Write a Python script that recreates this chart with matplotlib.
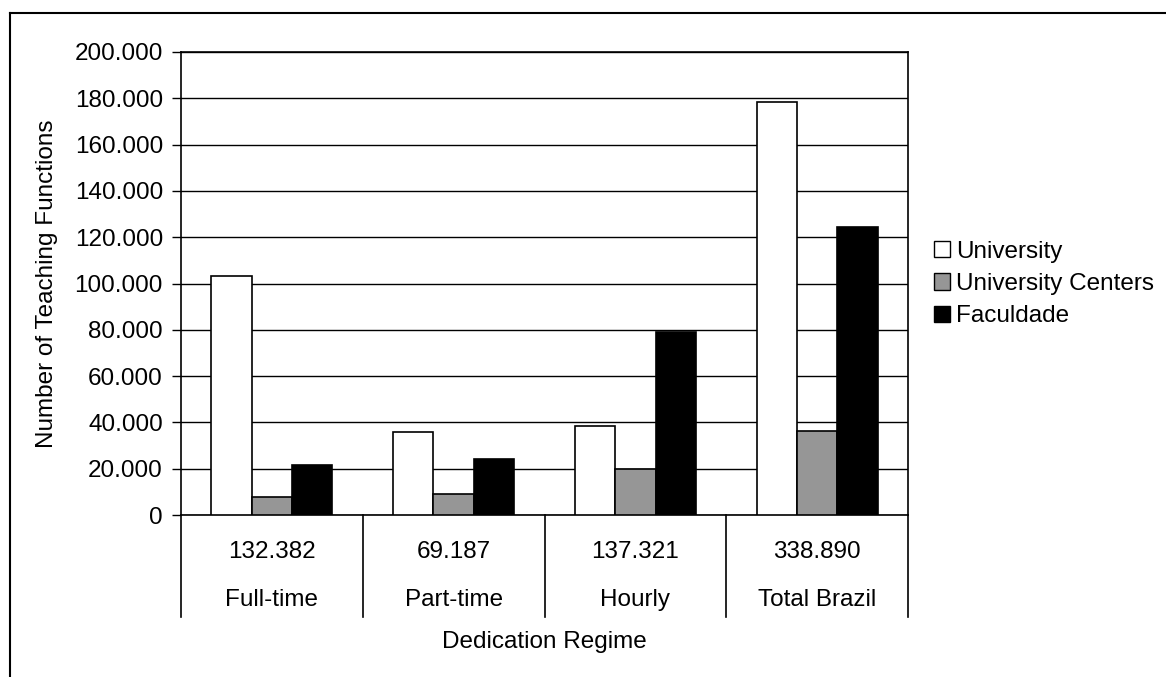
import matplotlib
matplotlib.use("Agg")
import matplotlib.pyplot as plt
import numpy as np
from matplotlib.lines import Line2D
from matplotlib.patches import Patch
from matplotlib.ticker import FuncFormatter, MultipleLocator

plt.rcParams['font.family'] = ['Liberation Sans', 'DejaVu Sans']

categories = ["Full-time", "Part-time", "Hourly", "Total Brazil"]
totals = [132382, 69187, 137321, 338890]
series_names = ["University", "University Centers", "Faculdade"]
university = [103300, 36000, 38600, 178200]
university_centers = [7700, 9000, 19700, 36100]
faculdade = [21400, 24200, 79000, 124600]
series_colors = ["#ffffff", "#969696", "#000000"]

FS = 17.5


def br_thousands(v, pos=None):
    return f"{v:,.0f}".replace(",", ".")


W, H = 1166, 677
fig = plt.figure(figsize=(W / 100, H / 100), dpi=100)
# plot area in pixels: x 181..908, y 52..515 (from top)
ax = fig.add_axes([181 / W, (H - 515) / H, 727 / W, 463 / H])

x = np.arange(len(categories))
bw = 1 / 4.5
for i, (vals, col, name) in enumerate(zip([university, university_centers, faculdade],
                                          series_colors, series_names)):
    ax.bar(x + (i - 1) * bw, vals, width=bw, color=col, edgecolor="black",
           linewidth=1.2, label=name, zorder=3)

ax.set_xlim(-0.5, len(categories) - 0.5)
ax.set_ylim(0, 200000)
ax.yaxis.set_major_locator(MultipleLocator(20000))
ax.yaxis.set_major_formatter(FuncFormatter(br_thousands))
ax.grid(axis="y", color="black", linewidth=1.0, zorder=0)
ax.set_axisbelow(True)
ax.tick_params(axis="y", direction="out", length=6.5, width=1.0, pad=6.5,
               labelsize=FS)
ax.set_xticks([])
for s in ax.spines.values():
    s.set_linewidth(1.2)

# category table below the axis
ext = -102 / 463
tr = ax.get_xaxis_transform()
for xb in np.arange(-0.5, len(categories), 1.0):
    ax.plot([xb, xb], [0, ext], color="black", linewidth=1.2,
            transform=tr, clip_on=False)
for xi, name, tot in zip(x, categories, totals):
    ax.text(xi, -37 / 463, br_thousands(tot), transform=tr, ha="center",
            va="center", fontsize=FS)
    ax.text(xi, -85 / 463, name, transform=tr, ha="center", va="center",
            fontsize=FS)
ax.text((len(categories) - 1) / 2, -127 / 463, "Dedication Regime", transform=tr,
        ha="center", va="center", fontsize=FS)

ax.text(-134 / 727, 0.5, "Number of Teaching Functions", transform=ax.transAxes,
        rotation=90, ha="center", va="center", fontsize=FS)

handles = [Patch(facecolor=c, edgecolor="black", linewidth=1.0) for c in series_colors]
fig.legend(handles, series_names, loc="center left",
           bbox_to_anchor=(934 / W, (H - 284) / H), frameon=False, fontsize=FS,
           handlelength=0.66, handleheight=0.66, handletextpad=0.25,
           labelspacing=0.43, borderpad=0, borderaxespad=0)

# outer chart border (only top and left fall inside the image)
fig.add_artist(Line2D([10 / W, 10 / W], [0, (H - 13) / H], color="black",
                      linewidth=1.5, transform=fig.transFigure))
fig.add_artist(Line2D([10 / W, 1], [(H - 13) / H, (H - 13) / H], color="black",
                      linewidth=1.5, transform=fig.transFigure))

fig.savefig("out.png", dpi=100, facecolor="white")
